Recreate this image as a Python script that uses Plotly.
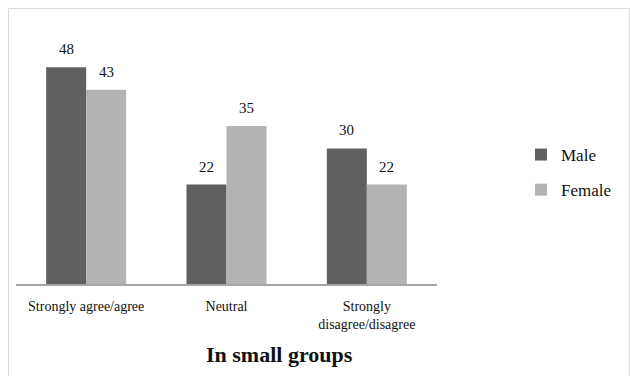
import plotly.graph_objects as go

categories = ["Strongly agree/agree", "Neutral", "Strongly<br>disagree/disagree"]
male = [48, 22, 30]
female = [43, 35, 22]

MALE_COLOR = "#606060"
FEMALE_COLOR = "#b3b3b3"
FONT = "Liberation Serif"

x_idx = list(range(len(categories)))
bar_w = 0.285

fig = go.Figure()
fig.add_trace(go.Bar(
    x=x_idx, y=male, name="Male", width=bar_w, offset=-bar_w,
    marker=dict(color=MALE_COLOR, line=dict(width=0)),
    legendgroup="m",
))
fig.add_trace(go.Bar(
    x=x_idx, y=female, name="Female", width=bar_w, offset=0,
    marker=dict(color=FEMALE_COLOR, line=dict(width=0)),
    legendgroup="f",
))

# value labels above each bar
for xs, vals, off in ((x_idx, male, -bar_w / 2), (x_idx, female, bar_w / 2)):
    for xi, v in zip(xs, vals):
        fig.add_annotation(
            x=xi + off, y=v, text=str(v), showarrow=False,
            yanchor="bottom", yshift=8,
            font=dict(family=FONT, size=15, color="#111"),
        )

L, R, T, B = 16, 437, 31, 284
W, H = 630, 376
pw, ph = R - L, B - T

def px_x(p):
    return (p - L) / pw

def px_y(p):
    return (B - p) / ph

# outer chart frame
fig.add_shape(type="rect", xref="paper", yref="paper",
              x0=px_x(8.5), x1=px_x(629.5), y0=px_y(390), y1=px_y(8.5),
              line=dict(color="#d9d9d9", width=1), fillcolor="rgba(0,0,0,0)")

fig.add_annotation(
    text="<b>In small groups</b>", xref="paper", yref="paper",
    x=px_x(279), y=px_y(354), showarrow=False,
    xanchor="center", yanchor="middle",
    font=dict(family=FONT, size=22, color="#111"),
)

fig.update_layout(
    width=W, height=H,
    margin=dict(l=L, r=W - R, t=T, b=H - B, autoexpand=False),
    paper_bgcolor="white", plot_bgcolor="white",
    barmode="overlay",
    showlegend=True,
    legend=dict(
        x=px_x(521), y=px_y(137), xanchor="left", yanchor="top",
        font=dict(family=FONT, size=17, color="#111"),
        tracegroupgap=10, itemwidth=30,
        bgcolor="rgba(0,0,0,0)",
    ),
    xaxis=dict(
        range=[-0.5, 2.5], tickmode="array", tickvals=x_idx, ticktext=categories,
        showgrid=False, zeroline=False, showline=True,
        linecolor="#a6a6a6", linewidth=1.5, ticks="",
        ticklabelstandoff=8,
        tickfont=dict(family=FONT, size=14, color="#111"),
        fixedrange=True,
    ),
    yaxis=dict(
        range=[0, 56], visible=False, showgrid=False, zeroline=False,
        fixedrange=True,
    ),
)

fig.write_html("out.html")
